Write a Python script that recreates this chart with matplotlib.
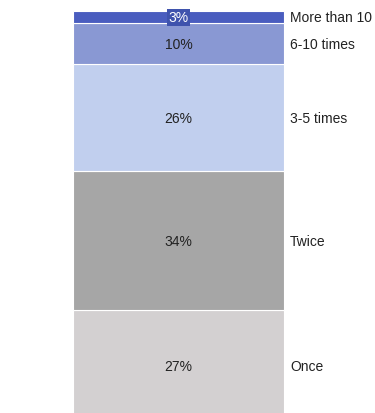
import matplotlib.pyplot as plt

plt.rcParams['font.family'] = ['Liberation Sans', 'DejaVu Sans']

# Доли ответов (снизу вверх)
categories = ['Once', 'Twice', '3-5 times', '6-10 times', 'More than 10']
values = [27, 34, 26, 10, 3]
colors = ['#d3d0d1', '#a6a6a6', '#c1cfee', '#8998d3', '#4a5dbf']

fig = plt.figure(figsize=(3.75, 4.14), dpi=100)
ax = fig.add_axes([0, 0, 1, 1])

bottom = 0
for cat, val, col in zip(categories, values, colors):
    ax.bar(0, val, width=1, bottom=bottom, color=col, edgecolor='white', linewidth=0.8)
    mid = bottom + val / 2
    if val < 5:
        # маленький сегмент: подпись белым на тёмной плашке
        ax.text(0, mid, f'{val}%', ha='center', va='center', fontsize=10, color='white',
                bbox=dict(boxstyle='square,pad=0.1', facecolor='#3f53ad', edgecolor='none'))
    else:
        ax.text(0, mid, f'{val}%', ha='center', va='center', fontsize=10, color='#222222')
    ax.text(0.528, mid, cat, ha='left', va='center', fontsize=10, color='#222222')
    bottom += val

ax.set_xlim(-0.846, 0.931)
ax.set_ylim(1.95, 102.93)
ax.axis('off')

plt.savefig('out.png', dpi=100, facecolor='white')
plt.close()
